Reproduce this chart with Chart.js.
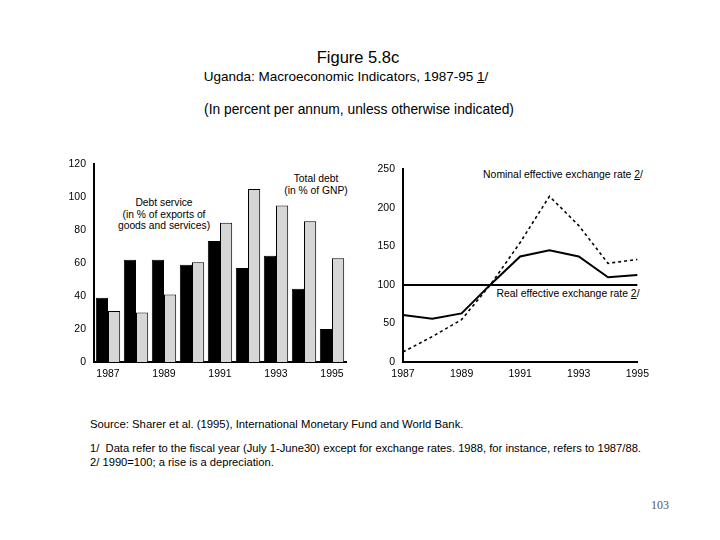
<!DOCTYPE html>
<html>
<head>
<meta charset="utf-8">
<script src="https://cdn.jsdelivr.net/npm/chart.js@4.4.1/dist/chart.umd.min.js"></script>
<style>
    body { margin: 0; background: #fff; font-family: "Liberation Sans", Arial, sans-serif; color: #000; }
    #page { position: relative; width: 720px; height: 540px; overflow: hidden; }
    .txt { position: absolute; white-space: nowrap; line-height: 1; }
    .c { transform: translateX(-50%); text-align: center; }
    canvas { position: absolute; }
</style>
</head>
<body>
<div id="page">
    <div class="txt c" style="left:358px; top:49px; font-size:16.5px;">Figure 5.8c</div>
    <div class="txt c" style="left:346px; top:70px; font-size:13.5px;">Uganda: Macroeconomic Indicators, 1987-95 <u>1</u>/</div>
    <div class="txt c" style="left:359px; top:103px; font-size:13.8px;">(In percent per annum, unless otherwise indicated)</div>

    <div class="txt c" style="left:316px; top:173px; font-size:10.3px; line-height:12px;">Total debt<br>(in % of GNP)</div>
    <div class="txt c" style="left:164px; top:197px; font-size:10.3px; line-height:11.5px;">Debt service<br>(in % of exports of<br>goods and services)</div>
    <div class="txt c" style="left:563px; top:170px; font-size:10.4px;">Nominal effective exchange rate <u>2</u>/</div>
    <div class="txt c" style="left:568px; top:289px; font-size:10.4px;">Real effective exchange rate <u>2</u>/</div>

    <canvas id="debtChart" width="300" height="235" style="left:60px; top:150px;"></canvas>
    <canvas id="rateChart" width="290" height="230" style="left:365px; top:155px;"></canvas>

    <div class="txt" style="left:90px; top:419px; font-size:11.3px;">Source: Sharer et al. (1995), International Monetary Fund and World Bank.</div>
    <div class="txt" style="left:90px; top:443px; font-size:11.2px;">1/&nbsp; Data refer to the fiscal year (July 1-June30) except for exchange rates. 1988, for instance, refers to 1987/88.</div>
    <div class="txt" style="left:90px; top:457px; font-size:11.2px;">2/ 1990=100; a rise is a depreciation.</div>
    <div class="txt" style="left:651px; top:499px; font-size:12px; font-family:'Liberation Serif', serif; color:#555;">103</div>
</div>
<script>
const years = ['1987', '1988', '1989', '1990', '1991', '1992', '1993', '1994', '1995'];
const debtService = [39, 62, 62, 59, 73.5, 57, 64.5, 44.5, 20];
const totalDebt = [31, 30, 41, 60.5, 84.5, 105, 95, 85.5, 63];
const nominalRate = [13, 33, 55, 101, 155, 215, 177, 128, 133];
const realRate = [61, 56, 63, 101, 137, 145, 137, 110, 113];
const baseIndex = [100, 100, 100, 100, 100, 100, 100, 100, 100];
const debtTicks = [0, 20, 40, 60, 80, 100, 120];
const rateTicks = [0, 50, 100, 150, 200, 250];

Chart.defaults.font.family = '"Liberation Sans", Arial, sans-serif';
Chart.defaults.color = '#000';
Chart.defaults.animation = false;

const tickFont = { size: 10.5 };
const everyOther = function (v, i) { return i % 2 === 0 ? years[i] : ''; };

new Chart(document.getElementById('debtChart'), {
    type: 'bar',
    data: {
        labels: years,
        datasets: [{
            label: 'Debt service',
            data: debtService,
            backgroundColor: '#000',
            borderColor: '#000',
            borderWidth: 1,
            categoryPercentage: 0.87,
            barPercentage: 1
        }, {
            label: 'Total debt',
            data: totalDebt,
            backgroundColor: '#d6d6d6',
            borderColor: '#000',
            borderWidth: 1,
            categoryPercentage: 0.87,
            barPercentage: 1
        }]
    },
    options: {
        responsive: false,
        layout: { padding: { top: 10, right: 14, left: 0, bottom: 0 } },
        plugins: { legend: { display: false }, tooltip: { enabled: false } },
        scales: {
            x: {
                grid: { display: false, drawTicks: false },
                border: { color: '#000', width: 2 },
                ticks: { font: tickFont, autoSkip: false, maxRotation: 0, padding: 6, callback: everyOther },
                afterFit: (s) => { s.height = 23; }
            },
            y: {
                min: 0,
                max: 120,
                afterBuildTicks: (s) => { s.ticks = debtTicks.map((v) => ({ value: v })); },
                grid: { display: false, drawTicks: false },
                border: { color: '#000', width: 2 },
                ticks: { font: tickFont, padding: 8 },
                afterFit: (s) => { s.width = 34; }
            }
        }
    }
});

new Chart(document.getElementById('rateChart'), {
    type: 'line',
    data: {
        labels: years,
        datasets: [{
            label: 'Nominal effective exchange rate',
            data: nominalRate,
            borderColor: '#000',
            borderWidth: 1.6,
            borderDash: [3, 3],
            pointRadius: 0,
            tension: 0
        }, {
            label: 'Real effective exchange rate',
            data: realRate,
            borderColor: '#000',
            borderWidth: 2,
            pointRadius: 0,
            tension: 0
        }, {
            label: '1990=100',
            data: baseIndex,
            borderColor: '#000',
            borderWidth: 2,
            pointRadius: 0
        }]
    },
    options: {
        responsive: false,
        layout: { padding: { top: 10, right: 13, left: 0, bottom: 0 } },
        plugins: { legend: { display: false }, tooltip: { enabled: false } },
        scales: {
            x: {
                offset: false,
                grid: { display: false, drawTicks: false },
                border: { color: '#000', width: 2 },
                ticks: { font: tickFont, autoSkip: false, maxRotation: 0, padding: 6, callback: everyOther },
                afterFit: (s) => { s.height = 23; }
            },
            y: {
                min: 0,
                max: 250,
                afterBuildTicks: (s) => { s.ticks = rateTicks.map((v) => ({ value: v })); },
                grid: { display: false, drawTicks: false },
                border: { color: '#000', width: 2 },
                ticks: { font: tickFont, padding: 8 },
                afterFit: (s) => { s.width = 38; }
            }
        }
    }
});
</script>
</body>
</html>
